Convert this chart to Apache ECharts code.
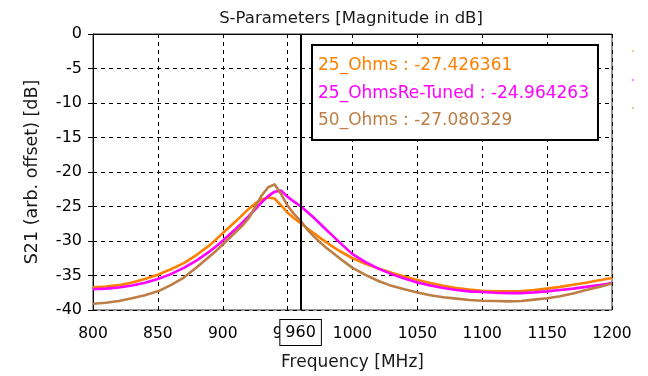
<!DOCTYPE html>
<html>
<head>
<meta charset="utf-8">
<title>S-Parameters</title>
<script src="https://cdn.jsdelivr.net/npm/echarts@6/dist/echarts.min.js"></script>
<style>
  html, body { margin: 0; padding: 0; background: #fff; }
  #chart { width: 648px; height: 376px; }
</style>
</head>
<body>
<div id="chart"></div>
<script>
// Frequency samples (MHz) shared by all three S21 traces (finer around the resonance)
const freqMHz = [800, 810, 820, 830, 840, 850, 860, 870, 880, 890,
                 895, 900, 905, 910, 915, 920, 925, 930, 935, 940,
                 945, 950, 955, 960, 965, 970, 975, 980, 985, 990,
                 1000, 1010, 1020, 1030, 1040, 1050, 1060, 1070, 1080, 1090,
                 1100, 1110, 1120, 1130, 1140, 1150, 1160, 1170, 1180, 1190, 1200];

// S21 magnitude in dB (arbitrary offset)
const ohms25 = [-36.7, -36.6, -36.4, -36.0, -35.5, -34.9, -34.1, -33.2, -32.0, -30.6,
                -29.75, -28.85, -28.0, -27.15, -26.25, -25.35, -24.55, -24.0, -23.7, -23.85,
                -24.85, -25.9, -26.7, -27.426361, -28.15, -28.85, -29.55, -30.2, -30.85, -31.45,
                -32.5, -33.3, -34.0, -34.6, -35.15, -35.65, -36.1, -36.5, -36.8, -37.05,
                -37.2, -37.3, -37.3, -37.25, -37.1, -36.9, -36.65, -36.35, -36.05, -35.7, -35.35];
const ohms25Retuned = [-37.0, -36.9, -36.75, -36.45, -36.05, -35.5, -34.8, -33.9, -32.8, -31.5,
                       -30.75, -29.95, -29.1, -28.25, -27.35, -26.4, -25.4, -24.4, -23.5, -22.85,
                       -22.7, -23.6, -24.3, -24.964263, -25.75, -26.6, -27.5, -28.4, -29.3, -30.2,
                       -31.9, -33.05, -34.0, -34.8, -35.45, -36.0, -36.45, -36.8, -37.1, -37.3,
                       -37.4, -37.5, -37.55, -37.55, -37.45, -37.3, -37.1, -36.9, -36.65, -36.4, -36.1];
const ohms50 = [-39.1, -38.95, -38.7, -38.3, -37.85, -37.3, -36.4, -35.3, -33.8, -32.2,
                -31.4, -30.5, -29.6, -28.7, -27.8, -26.7, -25.1, -23.4, -22.2, -21.8,
                -23.2, -24.9, -26.1, -27.080329, -28.3, -29.3, -30.2, -31.0, -31.75, -32.5,
                -33.9, -34.9, -35.8, -36.5, -37.0, -37.45, -37.85, -38.15, -38.35, -38.55,
                -38.65, -38.7, -38.75, -38.7, -38.5, -38.3, -38.0, -37.6, -37.1, -36.65, -36.15];

const seriesNames = ['25_Ohms', '25_OhmsRe-Tuned', '50_Ohms'];
const seriesValues = [ohms25, ohms25Retuned, ohms50];
const seriesColors = ['#FF8000', '#FF00FF', '#BC7E45'];

// Marker frequency and axis ranges
const markerFreq = 960;
const xRange = [800, 1200];
const xStep = 50;
const yRange = [-40, 0];
const yStep = 5;

const FONT = 'DejaVu Sans';
const TEXT = '#1a1a1a';

function valueAt(values, f) {
  return values[freqMHz.indexOf(f)];
}

const chart = echarts.init(document.getElementById('chart'), null, { renderer: 'canvas' });

const series = seriesNames.map((name, i) => {
  const s = {
    name: name,
    type: 'line',
    data: freqMHz.map((f, k) => [f, seriesValues[i][k]]),
    showSymbol: false,
    smooth: false,
    lineStyle: { color: seriesColors[i], width: 2.6, join: 'round' },
    itemStyle: { color: seriesColors[i] },
    emphasis: { disabled: true },
    z: 3
  };
  if (i === 0) {
    // vertical marker at the evaluation frequency, with its boxed value below the axis
    s.markLine = {
      silent: true,
      symbol: ['none', 'none'],
      animation: false,
      lineStyle: { color: '#000', width: 2, type: 'solid' },
      label: {
        show: true,
        position: 'start',
        formatter: String(markerFreq),
        color: '#000',
        fontFamily: FONT,
        fontSize: 16,
        backgroundColor: '#fff',
        borderColor: '#000',
        borderWidth: 1,
        padding: [5, 5, 4, 5],
        distance: 10
      },
      data: [{ xAxis: markerFreq }],
      z: 5
    };
  }
  return s;
});

chart.setOption({
  animation: false,
  backgroundColor: '#fff',
  title: {
    text: 'S-Parameters [Magnitude in dB]',
    left: 346,
    textAlign: 'center',
    top: 5,
    textStyle: { fontFamily: FONT, fontSize: 16.5, fontWeight: 'normal', color: TEXT }
  },
  legend: {
    orient: 'vertical',
    left: 312,
    top: 45,
    padding: [11, 9, 9, 1],
    itemGap: 7.5,
    itemWidth: 0,
    itemHeight: 0,
    icon: 'none',
    selectedMode: false,
    backgroundColor: '#fff',
    borderColor: '#000',
    borderWidth: 2,
    formatter: name => name + ' : ' + valueAt(seriesValues[seriesNames.indexOf(name)], markerFreq).toFixed(6),
    data: seriesNames.map((n, i) => ({ name: n, textStyle: { color: seriesColors[i] } })),
    textStyle: { fontFamily: FONT, fontSize: 17, lineHeight: 20 }
  },
  graphic: [
    { type: 'circle', shape: { cx: 633, cy: 51, r: 0.8 }, style: { fill: seriesColors[0] } },
    { type: 'circle', shape: { cx: 633, cy: 80, r: 0.8 }, style: { fill: seriesColors[1] } },
    { type: 'circle', shape: { cx: 633, cy: 108, r: 0.8 }, style: { fill: seriesColors[2] } }
  ],
  grid: {
    left: 93,
    right: 36,
    top: 34,
    bottom: 63,
    show: true,
    borderColor: '#333',
    borderWidth: 1,
    backgroundColor: '#fff'
  },
  xAxis: {
    type: 'value',
    min: xRange[0],
    max: xRange[1],
    interval: xStep,
    name: 'Frequency [MHz]',
    nameLocation: 'middle',
    nameGap: 44,
    nameTextStyle: { fontFamily: FONT, fontSize: 17, color: TEXT },
    axisLine: { show: true, lineStyle: { color: '#000', width: 1 } },
    axisTick: { show: true, length: 4, lineStyle: { color: '#000' } },
    axisLabel: { fontFamily: FONT, fontSize: 15.5, color: '#000', margin: 16, formatter: v => String(v) },
    splitLine: { show: true, lineStyle: { color: '#000', width: 1, type: [4, 4] } }
  },
  yAxis: {
    type: 'value',
    min: yRange[0],
    max: yRange[1],
    interval: yStep,
    name: 'S21 (arb. offset) [dB]',
    nameLocation: 'middle',
    nameGap: 52,
    nameTextStyle: { fontFamily: FONT, fontSize: 17.5, color: TEXT },
    axisLine: { show: true, lineStyle: { color: '#000', width: 1 } },
    axisTick: { show: true, length: 5, lineStyle: { color: '#000' } },
    axisLabel: { fontFamily: FONT, fontSize: 16, color: '#000', margin: 11 },
    splitLine: { show: true, lineStyle: { color: '#000', width: 1, type: [4, 4] } }
  },
  series: series
});
</script>
</body>
</html>
